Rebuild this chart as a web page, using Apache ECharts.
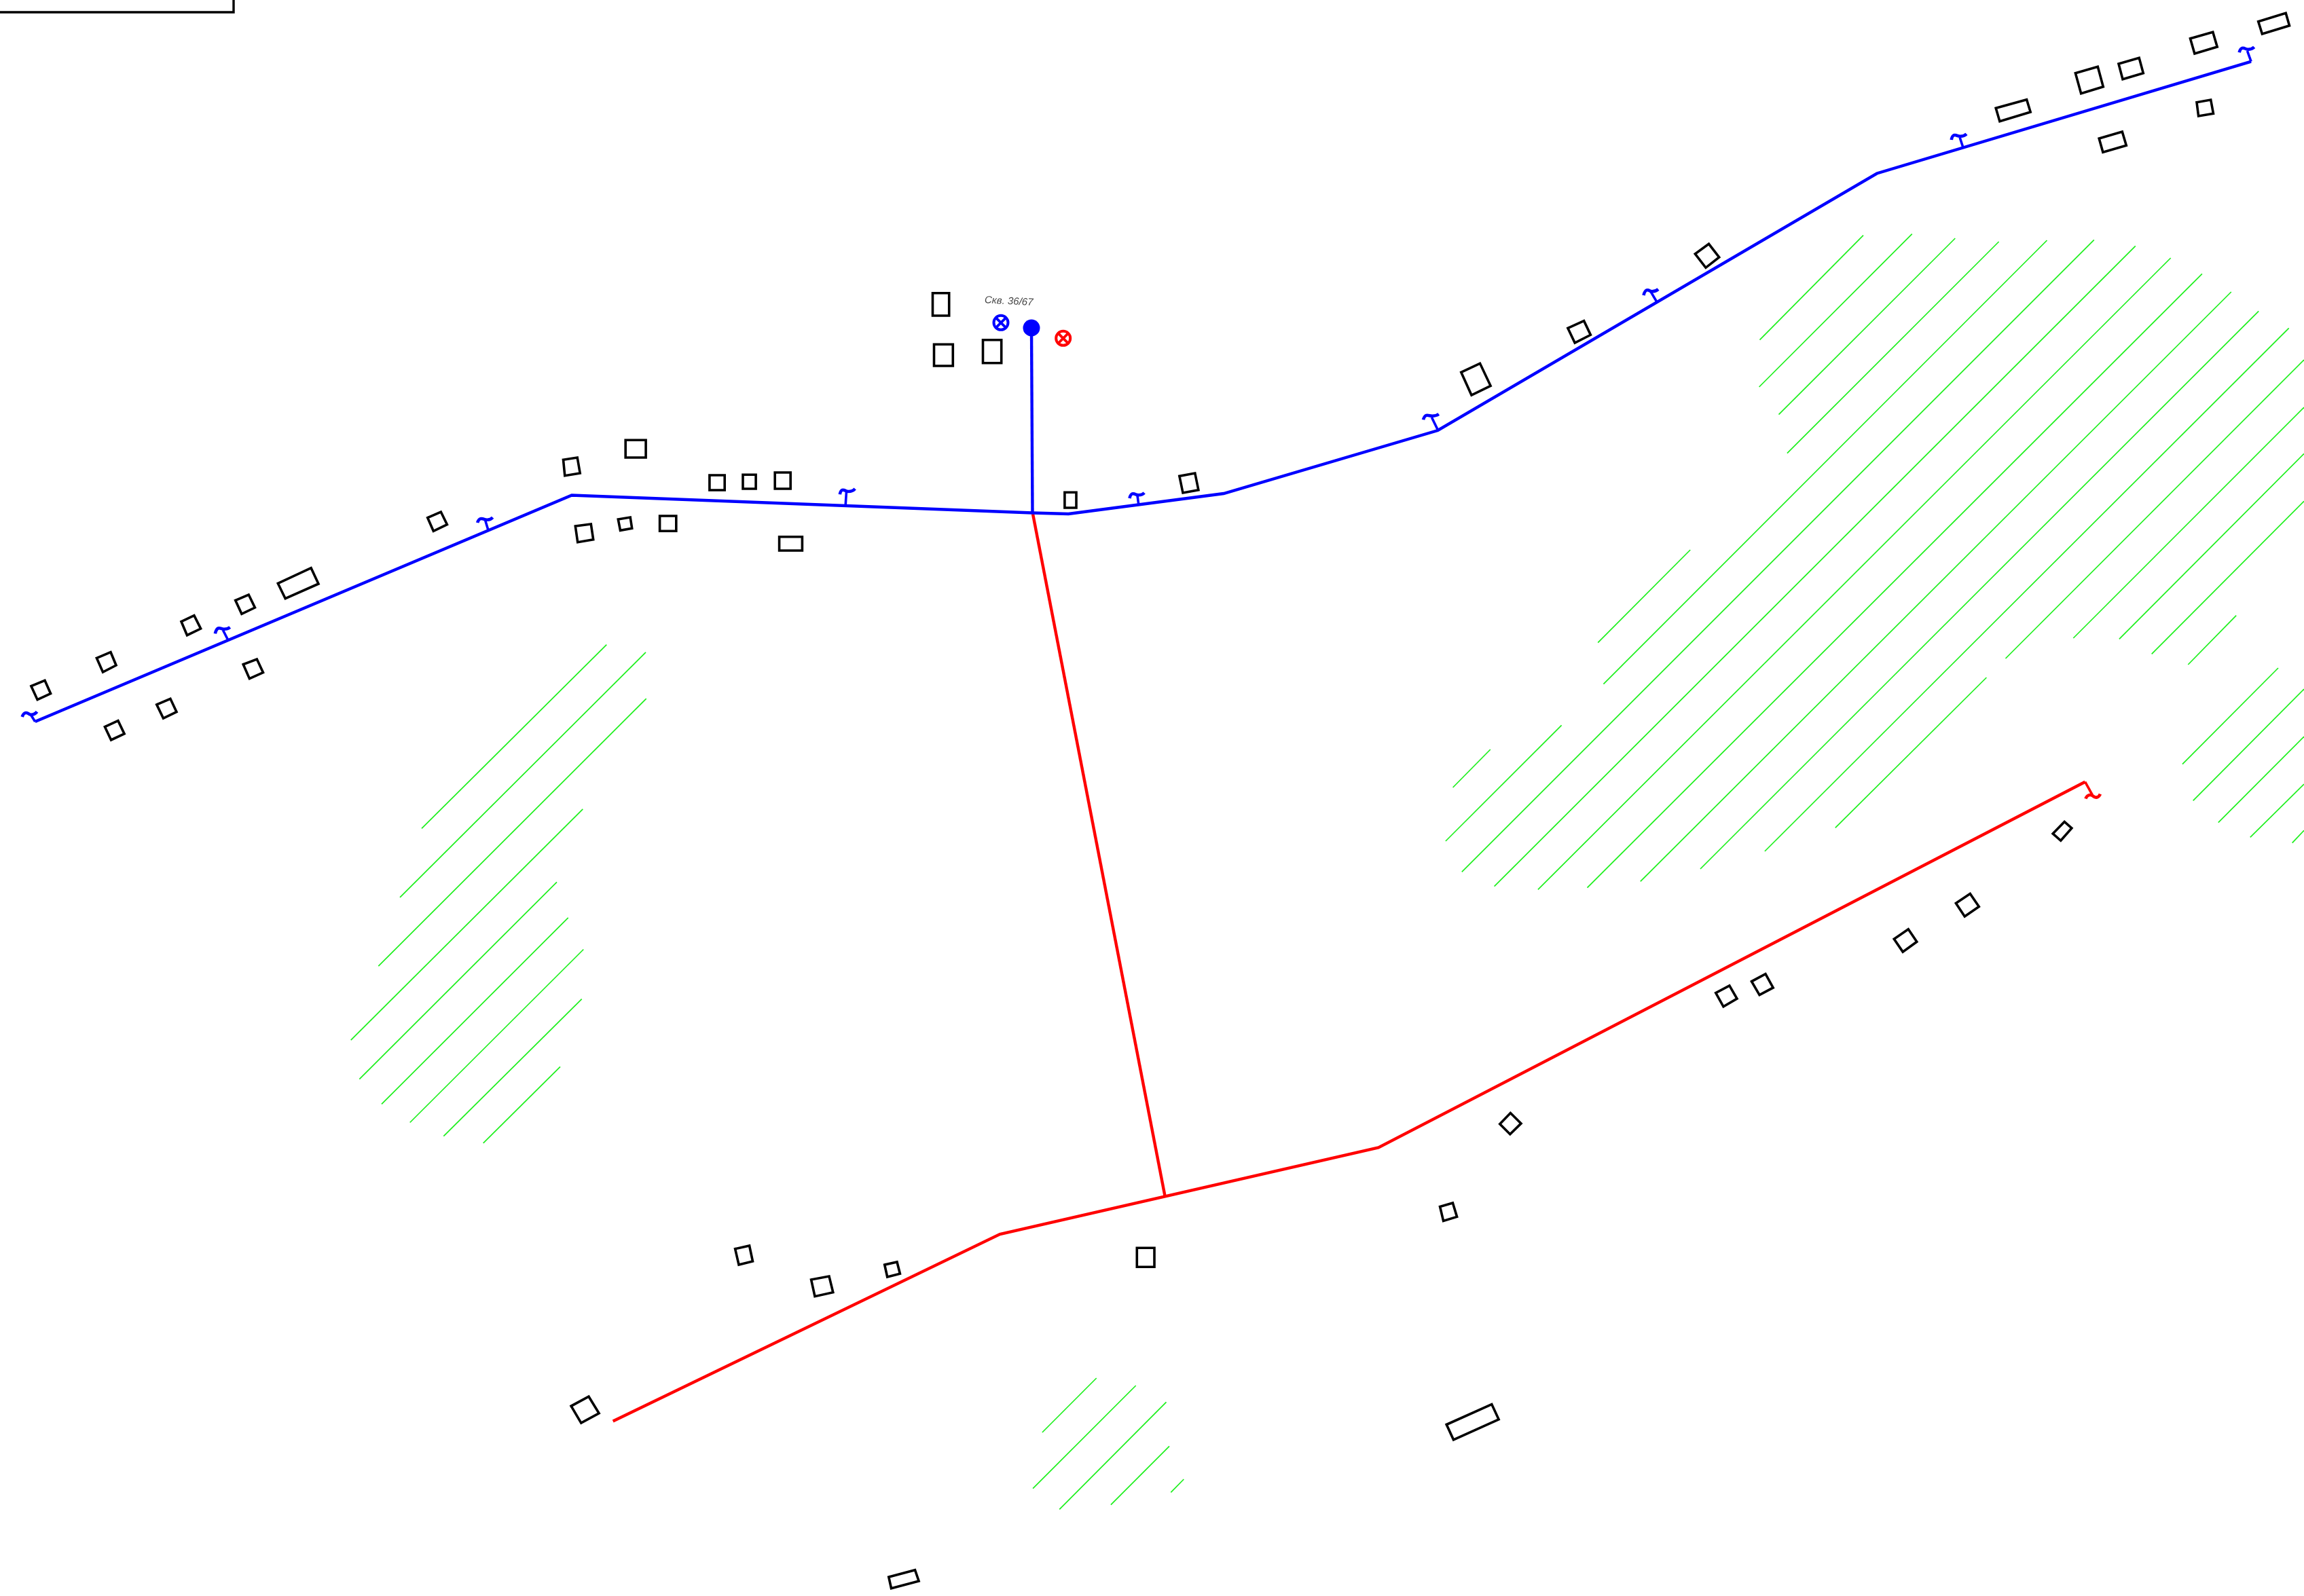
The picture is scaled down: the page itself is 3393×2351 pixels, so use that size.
<!DOCTYPE html>
<html>
<head>
<meta charset="utf-8">
<style>html,body{margin:0;padding:0;background:#fff}#c{width:3393px;height:2351px}</style>
<script src="https://cdn.jsdelivr.net/npm/echarts@6/dist/echarts.min.js"></script>
</head>
<body>
<div id="c"></div>
<script>
// Map extent (map units)
const extentX = [0, 3393];
const extentY = [0, 2351];

const wellLabel = 'Скв. 36/67';
const wellPoint = [[1519, 483]];
const wellLabelPoint = [[1485.7, 444]];
const blueValveCentre = [1474, 475.3];
const redValveCentre = [1565.7, 498.3];

const frameLine = [[0, 18], [344, 18], [344, 0]];

const blueMains = [
  [[1519, 483], [1520.5, 755.5]],
  [[51.7, 1063], [842, 729.5], [1520.5, 755.5], [1573.5, 757], [1802, 727], [2117.4, 634], [2764, 255.5], [3315.1, 90.7]]
];
const redMains = [
  [[1521, 757], [1715.6, 1762]],
  [[902.7, 2093.5], [1472.5, 1818], [2030, 1690.5], [3070.6, 1151.7]]
];

// stems of the service taps
const blueStems = [
  [[51.7, 1063], [44.8, 1052]],
  [[335.8, 942.7], [328.4, 928.3]],
  [[718.7, 780], [714.7, 766.7]],
  [[1245.2, 744], [1246.4, 725]],
  [[1676.9, 744], [1675, 730]],
  [[2117.4, 633.3], [2108.5, 615]],
  [[2439.7, 444.3], [2430.8, 429.3]],
  [[2890.8, 216.7], [2886.2, 202.7]],
  [[3315.1, 90.7], [3309.5, 75]]
];
const blueTildes = [
  [[32.7, 1056], [38.5, 1050], [45.9, 1052.7], [54.5, 1048.3]],
  [[316.9, 933.3], [322.6, 925.3], [330, 926.7], [338.7, 924]],
  [[703.2, 770], [708.9, 764], [717.6, 765.7], [725.6, 762.3]],
  [[1236.9, 728.3], [1241.3, 721.7], [1249.6, 724], [1259.2, 720]],
  [[1663.5, 734], [1668.6, 727.3], [1676.9, 729.3], [1685.2, 726]],
  [[2096, 618.3], [2101.8, 611.7], [2109.4, 612.7], [2118.8, 610]],
  [[2420.5, 435], [2426.3, 427.3], [2433, 429.3], [2442, 426]],
  [[2873.8, 206], [2878.7, 199], [2887, 200.7], [2896, 197.3]],
  [[3297.7, 77.3], [3303, 70.7], [3310.6, 72.7], [3319.7, 69.3]]
];
const redStems = [[[3070.6, 1151.7], [3081.3, 1170.8]]];
const redTildes = [[[3071.4, 1176.5], [3078, 1171], [3087, 1174.6], [3092.9, 1169.6]]];

const buildings = [
  [[45.9,1010.7],[66,1002.3],[74.6,1021.7],[55.1,1030.7]],
  [[142.4,969.3],[163,960.7],[171,980],[151.5,990]],
  [[267,915.7],[285.9,906.7],[295.6,926],[275.5,935.7]],
  [[346.7,884.3],[366.2,876],[375.4,895],[355.9,904.3]],
  [[409.3,859.3],[458.1,836.7],[469,860],[420.2,881.7]],
  [[629.7,762.7],[649.3,754],[658.4,772.7],[638.3,782.3]],
  [[829.5,677.3],[850.2,674],[854.2,697],[831.8,700.7]],
  [[847.3,775],[870.3,772],[873.7,794.7],[850.7,798.7]],
  [[358.2,978.7],[378.3,971],[387.5,990.7],[367.4,999.7]],
  [[230.8,1038],[250.9,1029.3],[260,1048.7],[240.5,1058]],
  [[154.4,1070.7],[173.9,1061.7],[183.1,1081],[163.6,1090]],
  [[921.2,648.3],[951.1,648.3],[951.1,674],[921.2,674]],
  [[1044.9,700],[1067.2,700],[1067.2,722],[1044.9,722]],
  [[1094,699.3],[1113.1,699.3],[1113.1,720],[1094,720]],
  [[1141.2,696],[1164.2,696],[1164.2,720],[1141.2,720]],
  [[910.3,765],[928.2,762],[930.7,778.3],[913.5,781.3]],
  [[971.6,760],[995.8,760],[995.8,782.3],[971.6,782.3]],
  [[1147.6,790.7],[1181.4,790.7],[1181.4,811],[1147.6,811]],
  [[1567.9,725.3],[1585,725.3],[1585,748],[1567.9,748]],
  [[1736.9,701.3],[1759.8,697],[1764.9,721.7],[1742,726]],
  [[1373.5,431.7],[1397.7,431.7],[1397.7,465],[1373.5,465]],
  [[1375.5,507.3],[1403.3,507.3],[1403.3,539],[1375.5,539]],
  [[1447.5,500.7],[1474.7,500.7],[1474.7,534.7],[1447.5,534.7]],
  [[2151.8,548.3],[2179.5,535.3],[2195.1,568.3],[2167,582]],
  [[2308.9,483.3],[2332.6,472.7],[2342.4,493.3],[2319.2,505]],
  [[2496.4,374],[2516.5,359.3],[2531.7,379],[2512,394.3]],
  [[2939.2,159.3],[2984.6,146.7],[2990.2,165],[2944.9,178.7]],
  [[3056.4,107.7],[3089.3,98.3],[3097.3,127.7],[3064.7,137.7]],
  [[3120,94],[3150.2,85.3],[3156.3,107.7],[3126,116.7]],
  [[3225.5,56.7],[3258.8,47.3],[3265.2,69],[3231.9,79]],
  [[3325.7,31.7],[3366.2,19.3],[3371.5,37.7],[3331.4,50]],
  [[3235,150.7],[3255.7,147],[3259.5,167.3],[3237.6,171]],
  [[3091.2,204],[3125.3,194],[3131.3,214.3],[3096.9,224.3]],
  [[3023.2,1228],[3040.2,1210.4],[3050.9,1219.9],[3034.8,1238.3]],
  [[2880.4,1330.5],[2901.3,1316.4],[2914.3,1335.5],[2893.3,1350]],
  [[2789.3,1383.3],[2810.3,1368.8],[2822.8,1387.2],[2802.2,1402.1]],
  [[2579.5,1445.7],[2600,1434.6],[2611.2,1454.9],[2591.1,1465.6]],
  [[2526.8,1462.6],[2546.9,1451.8],[2558,1471],[2538,1482.8]],
  [[841.1,2071.2],[867,2057.2],[882.1,2081.8],[855.8,2096.2]],
  [[1082.6,1839.7],[1103.6,1835],[1108.5,1858],[1088,1863]],
  [[1194.6,1885],[1221,1880],[1226.8,1903.7],[1200,1909.7]],
  [[1302.7,1863],[1321,1859],[1325.4,1876.3],[1306.7,1881]],
  [[2130.2,2098.5],[2196.8,2068.5],[2207.1,2090.8],[2140.5,2120.8]],
  [[1674.3,1838.3],[1700,1838.3],[1700,1866.3],[1674.3,1866.3]],
  [[2120.6,1777.5],[2139.4,1771.9],[2145.6,1792.4],[2125.6,1798.5]],
  [[2208.8,1655.8],[2224.4,1639.5],[2240,1654.9],[2223.8,1670.7]],
  [[1308.8,2323],[1347.5,2312.7],[1353.1,2329],[1312.5,2339.7]]
];

const hatchRight = [
  [[2744,346.7],[2591.5,500.7]],
  [[2815.8,344.7],[2590.6,570]],
  [[2879.3,351],[2619.5,610.7]],
  [[2943.6,356],[2631.9,667.7]],
  [[3014.5,354],[2361.4,1007.7]],
  [[3083.8,353.3],[2152.8,1284.3]],
  [[3144.8,362.3],[2200.6,1305.7]],
  [[3196.7,380],[2264.9,1310.3]],
  [[3242.9,403.3],[2337.5,1307.7]],
  [[3285.8,430],[2415.8,1298.3]],
  [[3326.2,458.3],[2504,1280]],
  [[3370.7,483.3],[2598.9,1254]],
  [[3393,530],[2953.5,970]],
  [[2925.4,998],[2702.8,1219.3]],
  [[3393,600],[3053.3,940]],
  [[3393,668.3],[3120.9,941.3]],
  [[3393,738.3],[3168.7,963.3]],
  [[2489.2,810],[2353.2,946.7]],
  [[2194.8,1104],[2139.6,1160]],
  [[2299.6,1068.3],[2128.9,1239]],
  [[3293.2,906.7],[3222.3,979]],
  [[3355,984],[3214,1125.7]],
  [[3393,1015],[3229.7,1179.3]],
  [[3393,1085],[3266.8,1211.7]],
  [[3393,1155],[3313.8,1233.3]],
  [[3393,1223.3],[3375.7,1241.7]]
];
const hatchLeft = [
  [[621,1220.3],[893.3,949.6]],
  [[589,1321.9],[951,960.9]],
  [[557.3,1423.1],[951.7,1029.2]],
  [[516.7,1532.1],[858.3,1191.8]],
  [[529.3,1589.6],[820,1299.3]],
  [[562,1626.4],[836.7,1351.9]],
  [[603.7,1653.5],[859.3,1398.5]],
  [[653.3,1673.6],[856.7,1471.7]],
  [[711.7,1683.9],[825,1571.4]]
];
const hatchBottom = [
  [[1534.9,2110],[1614.7,2030]],
  [[1521.1,2192.7],[1672.7,2041]],
  [[1560.2,2223.3],[1717.5,2065.3]],
  [[1635.9,2216.7],[1722,2130.3]],
  [[1724.3,2198.3],[1743.3,2179]]
];

// colours and stroke widths
const BLUE = '#0000ff', RED = '#ff0000', GREEN = '#1cf01c', BLACK = '#000000';

function pathSeries(points, color, width, extra) {
  return Object.assign({
    type: 'line', data: points, showSymbol: false, symbol: 'none', silent: true,
    animation: false, clip: true,
    lineStyle: { color: color, width: width, cap: 'butt', join: 'miter' }
  }, extra || {});
}
function crossOf(c) {
  const d = 7;
  return [
    [[c[0] - d, c[1] - d], [c[0] + d, c[1] + d]],
    [[c[0] - d, c[1] + d], [c[0] + d, c[1] - d]]
  ];
}
function ringSeries(c, color) {
  return {
    type: 'scatter', data: [c], symbol: 'circle', symbolSize: 21, silent: true, animation: false,
    itemStyle: { color: 'transparent', borderColor: color, borderWidth: 4, opacity: 1 }
  };
}

const series = [];
hatchRight.concat(hatchLeft, hatchBottom).forEach(p => series.push(pathSeries(p, GREEN, 1.7)));
buildings.forEach(b => {
  const closed = b.concat([b[0]]);
  const s = pathSeries(closed, BLACK, 3.6);
  s.lineStyle.cap = 'square';
  series.push(s);
});
series.push(pathSeries(frameLine, BLACK, 3.4));
redMains.forEach(p => series.push(pathSeries(p, RED, 4.4, { z: 3 })));
blueMains.forEach(p => series.push(pathSeries(p, BLUE, 4.4, { z: 4 })));
blueStems.forEach(p => series.push(pathSeries(p, BLUE, 3.6, { z: 4 })));
redStems.forEach(p => series.push(pathSeries(p, RED, 3.6, { z: 4 })));
blueTildes.forEach(p => series.push(pathSeries(p, BLUE, 4.6, { smooth: 0.6, z: 4 })));
redTildes.forEach(p => series.push(pathSeries(p, RED, 4.6, { smooth: 0.6, z: 4 })));
crossOf(blueValveCentre).forEach(p => series.push(pathSeries(p, BLUE, 3.8, { z: 4 })));
crossOf(redValveCentre).forEach(p => series.push(pathSeries(p, RED, 3.8, { z: 4 })));
series.push(ringSeries(blueValveCentre, BLUE));
series.push(ringSeries(redValveCentre, RED));
series.push({
  type: 'scatter', data: wellPoint, symbol: 'circle', symbolSize: 25, silent: true, animation: false, z: 5,
  itemStyle: { color: BLUE, opacity: 1 }
});
series.push({
  type: 'scatter', data: wellLabelPoint, symbolSize: 0, silent: true, animation: false, z: 6,
  label: {
    show: true, position: 'inside', formatter: wellLabel, rotate: -3,
    fontFamily: 'Liberation Sans', fontStyle: 'italic', fontSize: 15, color: '#111111'
  }
});

const chart = echarts.init(document.getElementById('c'), null, { renderer: 'canvas' });
chart.setOption({
  animation: false,
  backgroundColor: '#ffffff',
  grid: { left: 0, right: 0, top: 0, bottom: 0, containLabel: false },
  xAxis: { type: 'value', min: extentX[0], max: extentX[1], show: false },
  yAxis: { type: 'value', min: extentY[0], max: extentY[1], inverse: true, show: false },
  tooltip: { show: false },
  legend: { show: false },
  series: series
});
</script>
</body>
</html>
